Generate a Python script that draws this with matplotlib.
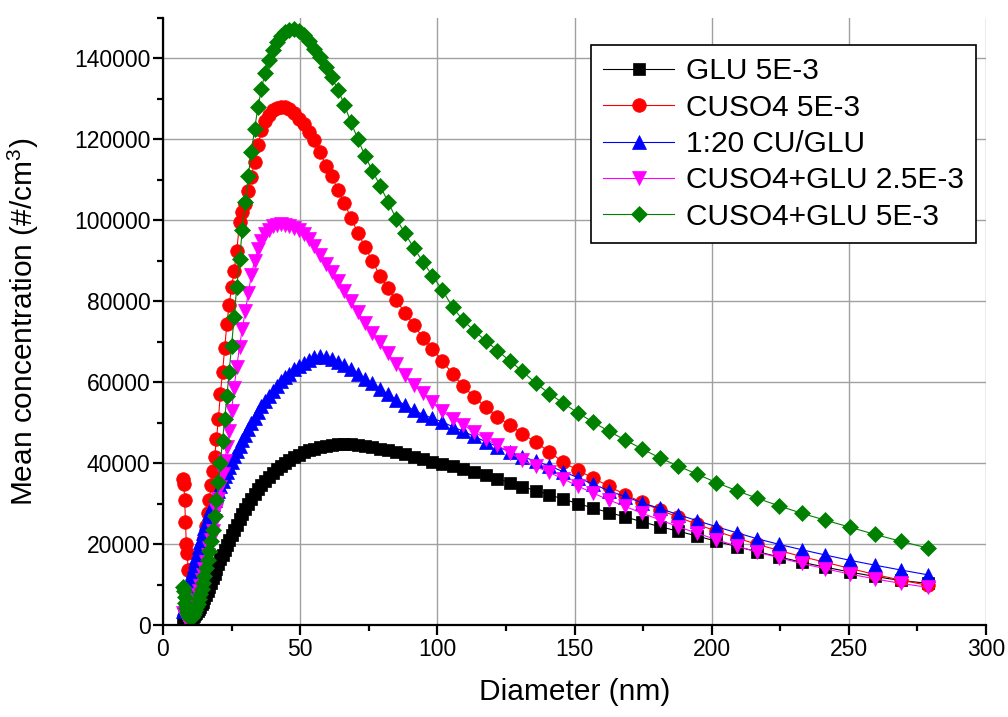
import matplotlib
matplotlib.use("Agg")
import matplotlib.pyplot as plt
from matplotlib.ticker import MultipleLocator

plt.rcParams["font.family"] = ["Liberation Sans", "DejaVu Sans"]
plt.rcParams["mathtext.default"] = "regular"

# SMPS channel diameters (nm)
diameter = [
    7.4, 7.6, 7.9, 8.2, 8.5, 8.8, 9.2, 9.5, 9.8, 10.2,
    10.6, 10.9, 11.3, 11.8, 12.2, 12.6, 13.1, 13.6, 14.1, 14.6,
    15.1, 15.7, 16.3, 16.9, 17.5, 18.1, 18.8, 19.5, 20.2, 20.9,
    21.7, 22.5, 23.3, 24.1, 25.0, 25.9, 26.9, 27.9, 28.9, 30.0,
    31.1, 32.2, 33.4, 34.6, 35.9, 37.2, 38.5, 40.0, 41.4, 42.9,
    44.5, 46.1, 47.8, 49.6, 51.4, 53.3, 55.2, 57.3, 59.4, 61.5,
    63.8, 66.1, 68.5, 71.1, 73.7, 76.3, 79.1, 82.0, 85.0, 88.2,
    91.4, 94.8, 98.2, 101.8, 105.6, 109.4, 113.4, 117.6, 121.9, 126.4,
    131.0, 135.8, 140.8, 145.9, 151.3, 156.8, 162.5, 168.5, 174.7, 181.1,
    187.7, 194.6, 201.7, 209.1, 216.7, 224.7, 232.9, 241.4, 250.3, 259.4,
    268.9, 278.8,
]

glu_5e3 = [
    800, 900, 1000, 1100, 1200, 1300, 1400, 1500, 1600, 1700,
    1900, 2100, 2300, 2600, 3000, 3400, 3900, 4500, 5100, 5800,
    6600, 7400, 8300, 9300, 10400, 11500, 12700, 13900, 15000, 16200,
    17400, 18600, 19800, 21000, 22200, 23500, 24800, 26100, 27400, 28700,
    30000, 31200, 32400, 33500, 34600, 35600, 36600, 37600, 38500, 39300,
    40100, 40800, 41500, 42100, 42700, 43200, 43600, 44000, 44300, 44500,
    44700, 44800, 44700, 44500, 44300, 44000, 43600, 43200, 42700, 42200,
    41600, 41000, 40400, 39800, 39200, 38600, 37800, 37000, 36200, 35200,
    34200, 33200, 32200, 31100, 30000, 28900, 27800, 26700, 25500, 24300,
    23200, 22000, 20700, 19400, 18100, 16800, 15500, 14300, 13100, 12000,
    11000, 10300,
]

cuso4_5e3 = [
    36000, 34800, 31000, 25500, 20000, 17800, 13500, 9500, 6500, 4500,
    3800, 4000, 4800, 6000, 7500, 9200, 11200, 13500, 16000, 18700,
    21500, 24500, 27700, 31000, 34500, 38000, 41500, 46000, 51000, 57000,
    62500, 68500, 74500, 79000, 83500, 87500, 92500, 99500, 102000, 104000,
    107200, 110800, 114500, 118500, 122200, 124500, 126000, 127200, 127800, 128000,
    127900, 127400, 126400, 125000, 123700, 121900, 119800, 116800, 113500, 110900,
    107500, 104200, 100700, 96800, 93400, 89900, 86300, 83200, 80200, 77200,
    74100, 71000, 68200, 65300, 62000, 59000, 56400, 53900, 51400, 49400,
    47300, 45200, 42800, 40200, 38200, 36300, 34300, 32200, 30300, 28400,
    26700, 24900, 23200, 21500, 19900, 18400, 16900, 15500, 14000, 12500,
    11100, 9800,
]

cu_glu_1_20 = [
    3500, 4300, 5300, 6300, 7300, 8300, 9300, 10200, 11000, 11900,
    12800, 13700, 14700, 15800, 16900, 18000, 19200, 20400, 21600, 22800,
    24000, 25300, 26500, 27700, 28800, 29900, 31000, 32100, 33200, 34300,
    35500, 36700, 37900, 39100, 40400, 41700, 43000, 44300, 45600, 47000,
    48400, 49800, 51200, 52600, 54000, 55300, 56600, 57900, 59100, 60200,
    61200, 62100, 63200, 64000, 64700, 65600, 66200, 66500, 66300, 65800,
    65000, 64200, 63200, 62000, 60800, 59700, 58400, 57000, 55700, 54300,
    53100, 52000, 51100, 50200, 49000, 47900, 46600, 45300, 44100, 42800,
    41600, 40500, 39300, 37900, 36400, 34800, 33200, 31700, 30200, 28800,
    27300, 25800, 24300, 22800, 21300, 19900, 18600, 17300, 16000, 14800,
    13600, 12400,
]

cuso4_glu_25e3 = [
    3000, 2500, 2100, 1900, 1900, 2000, 2200, 2500, 2900, 3400,
    4100, 3600, 4300, 5200, 6200, 7300, 8500, 9700, 11000, 12400,
    13900, 15500, 17200, 19000, 21000, 23200, 25700, 28400, 31200, 34000,
    37200, 40600, 44000, 48000, 53000, 58500, 63800, 68800, 73200, 77500,
    82000, 86500, 90000, 92800, 95000, 96600, 97700, 98500, 98900, 99000,
    98900, 98600, 98200, 97500, 96600, 95300, 93700, 91500, 89300, 87300,
    85000, 82600, 80100, 77300, 74700, 72200, 69900, 67200, 64400, 61700,
    59300, 57300, 55000, 52800, 51000, 49400, 47800, 46000, 44400, 42600,
    40700, 39200, 37700, 36100, 34300, 32600, 30900, 29300, 27600, 26000,
    24300, 22700, 21100, 19500, 18000, 16600, 15200, 13900, 12600, 11400,
    10300, 9300,
]

cuso4_glu_5e3 = [
    9500, 8500, 7000, 5500, 4200, 3200, 2500, 2100, 1900, 1900,
    2100, 2400, 2900, 3600, 4400, 5300, 6400, 7600, 9000, 10500,
    12200, 14000, 16000, 18300, 20800, 23500, 27000, 30900, 35300, 40000,
    45500, 51000, 56500, 62500, 69000, 76000, 83500, 90500, 97500, 104500,
    111000, 117000, 122500, 128000, 132500, 136500, 139500, 142000, 144000, 145500,
    146500, 147000, 147200, 146800, 145800, 144300, 142300, 140300, 137800, 135300,
    132300, 128600, 124200, 120000, 115800, 112300, 108600, 104600, 100400, 96800,
    93200, 89700, 86300, 82800, 78500, 75300, 72700, 70300, 67800, 65300,
    62700, 59800, 57200, 54800, 52400, 50100, 47900, 45700, 43500, 41300,
    39300, 37300, 35200, 33200, 31300, 29400, 27600, 25900, 24200, 22400,
    20700, 19000,
]

series = [
    ("GLU 5E-3", glu_5e3, "black", "s", 8.0),
    ("CUSO4 5E-3", cuso4_5e3, "#ff0000", "o", 9.8),
    ("1:20 CU/GLU", cu_glu_1_20, "#0000ff", "^", 10.5),
    ("CUSO4+GLU 2.5E-3", cuso4_glu_25e3, "#ff00ff", "v", 10.5),
    ("CUSO4+GLU 5E-3", cuso4_glu_5e3, "#008000", "D", 8.6),
]

fig = plt.figure(figsize=(10.08, 7.17), dpi=100)
ax = fig.add_axes([0.1617, 0.1283, 0.8165, 0.8466])

for name, vals, col, mk, ms in series:
    ax.plot(diameter, vals, color=col, lw=0.8, marker=mk, ms=ms,
            mfc=col, mec=col, mew=0.5, label=name)

ax.set_xlim(0, 300)
ax.set_ylim(0, 150000)
ax.xaxis.set_major_locator(MultipleLocator(50))
ax.xaxis.set_minor_locator(MultipleLocator(25))
ax.yaxis.set_major_locator(MultipleLocator(20000))
ax.yaxis.set_minor_locator(MultipleLocator(10000))
ax.ticklabel_format(axis="y", style="plain", useOffset=False)

ax.grid(True, which="major", color="#a0a0a0", lw=1.0)
ax.set_axisbelow(True)
for s in ["top", "right"]:
    ax.spines[s].set_visible(False)
for s in ["left", "bottom"]:
    ax.spines[s].set_linewidth(1.6)
ax.tick_params(which="major", direction="out", length=7, width=1.6, labelsize=16.5, pad=2)
ax.tick_params(which="minor", direction="out", length=4.5, width=1.6)

ax.set_xlabel("Diameter (nm)", fontsize=21.5)
ax.set_ylabel("Mean concentration (#/cm$^3$)", fontsize=21.5)
ax.xaxis.set_label_coords(0.5, -0.088)
ax.yaxis.set_label_coords(-0.148, 0.5)

leg = ax.legend(loc="upper right", bbox_to_anchor=(0.988, 0.956), fontsize=21.5,
                frameon=True, fancybox=False, edgecolor="black", framealpha=1,
                handlelength=2.35, handletextpad=0.4, labelspacing=0.28,
                borderpad=0.42, borderaxespad=0)
leg.get_frame().set_linewidth(1.2)

fig.savefig("out.png", dpi=100)
